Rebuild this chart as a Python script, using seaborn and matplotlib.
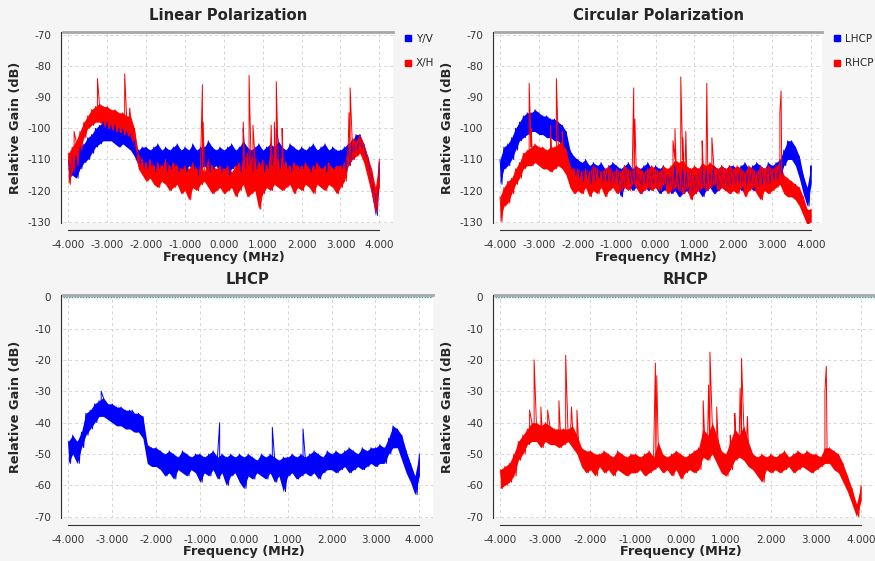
import numpy as np
import pandas as pd
import seaborn as sns
import matplotlib.pyplot as plt
from matplotlib.lines import Line2D

# frequency grid of the envelope readings (MHz)
freq = np.round(np.arange(-40, 41) / 10, 1)

# Linear polarization, Y/V (blue): upper / lower edge of the noise band
lin_yv_hi = [-110, -108, -109, -106, -105, -103, -102, -100, -99, -98,
             -98, -99, -99, -100, -100, -101, -102, -104, -107, -106,
             -106, -107, -106, -105, -107, -106, -107, -106, -105, -107,
             -106, -107, -105, -107, -106, -106, -104, -106, -107, -106,
             -107, -106, -105, -107, -106, -104, -106, -107, -106, -105,
             -107, -106, -105, -106, -104, -106, -107, -105, -106, -107,
             -106, -107, -106, -105, -107, -106, -105, -107, -106, -107,
             -107, -106, -105, -104, -102, -102, -105, -109, -115, -121,
             -111]
lin_yv_lo = [-116, -115, -116, -113, -111, -110, -108, -106, -105, -104,
             -104, -104, -105, -106, -105, -106, -107, -109, -112, -113,
             -113, -112, -114, -113, -112, -114, -113, -112, -114, -113,
             -114, -112, -113, -115, -113, -112, -114, -113, -112, -114,
             -113, -115, -113, -112, -114, -113, -112, -114, -113, -112,
             -114, -113, -112, -114, -113, -112, -113, -114, -112, -113,
             -113, -112, -114, -113, -112, -113, -114, -112, -113, -112,
             -113, -114, -112, -110, -108, -107, -109, -114, -121, -128,
             -116]
lin_yv_spike_f = [0.5, 1.35]
lin_yv_spike_v = [-100, -100]

# Linear polarization, X/H (red)
lin_xh_hi = [-108, -106, -104, -101, -98, -96, -94, -93, -92, -93,
             -93, -94, -94, -95, -95, -96, -96, -100, -108, -110,
             -111, -110, -112, -111, -112, -110, -112, -111, -112, -113,
             -112, -113, -111, -113, -112, -114, -110, -112, -113, -112,
             -113, -112, -114, -112, -111, -110, -108, -110, -109, -111,
             -110, -112, -108, -109, -110, -109, -111, -112, -111, -112,
             -112, -111, -113, -112, -111, -113, -112, -111, -113, -112,
             -112, -111, -106, -103, -104, -102, -105, -109, -113, -119,
             -110]
lin_xh_lo = [-118, -114, -112, -107, -103, -100, -99, -98, -98, -99,
             -100, -100, -101, -101, -102, -102, -103, -106, -113, -115,
             -117, -116, -118, -119, -117, -118, -120, -119, -118, -121,
             -120, -123, -119, -120, -118, -117, -119, -121, -120, -119,
             -121, -120, -119, -122, -120, -118, -122, -121, -120, -126,
             -121, -119, -120, -118, -119, -120, -119, -118, -121, -119,
             -120, -118, -119, -121, -118, -119, -120, -118, -119, -121,
             -119, -117, -112, -110, -109, -108, -111, -116, -121, -127,
             -119]
lin_xh_spike_f = [-3.85, -3.25, -2.55, -2.42, -0.55, -0.53, 0.5, 0.65, 0.75,
                  1.22, 1.3, 1.35, 1.5, 3.22, 3.25]
lin_xh_spike_v = [-101, -84, -82.5, -93.5, -86, -98, -98, -83, -99,
                  -99, -98, -85, -100, -95, -87]

# Circular polarization, LHCP (blue)
cir_l_hi = [-110, -106, -105, -103, -100, -98, -96, -95, -95, -94,
            -95, -96, -96, -97, -97, -98, -99, -101, -107, -109,
            -110, -111, -110, -112, -111, -112, -111, -113, -112, -111,
            -112, -113, -112, -111, -113, -112, -113, -112, -111, -113,
            -112, -113, -112, -114, -113, -112, -114, -113, -114, -113,
            -114, -113, -112, -113, -114, -112, -113, -112, -113, -112,
            -112, -113, -112, -111, -113, -112, -111, -112, -113, -111,
            -112, -111, -110, -107, -104, -104, -106, -109, -115, -119,
            -112]
cir_l_lo = [-118, -113, -112, -110, -107, -104, -103, -102, -101, -101,
            -102, -102, -103, -103, -104, -104, -106, -108, -113, -115,
            -116, -117, -116, -118, -117, -116, -118, -117, -119, -118,
            -118, -122, -119, -118, -120, -119, -121, -118, -120, -119,
            -119, -121, -120, -119, -121, -120, -122, -121, -120, -122,
            -121, -120, -122, -120, -119, -121, -120, -119, -120, -119,
            -119, -118, -120, -119, -118, -120, -119, -118, -119, -118,
            -117, -118, -116, -112, -110, -110, -112, -116, -121, -125,
            -118]
cir_l_spike_f = []
cir_l_spike_v = []

# Circular polarization, RHCP (red)
cir_r_hi = [-122, -119, -117, -116, -113, -111, -108, -107, -106, -105,
            -106, -106, -107, -106, -106, -105, -104, -107, -112, -113,
            -113, -114, -113, -114, -112, -113, -114, -113, -112, -114,
            -113, -114, -112, -113, -114, -112, -113, -114, -113, -112,
            -113, -114, -112, -113, -112, -110, -111, -110, -112, -113,
            -112, -113, -111, -112, -111, -112, -113, -112, -113, -112,
            -113, -112, -113, -114, -112, -113, -114, -112, -113, -112,
            -113, -112, -111, -115, -116, -117, -118, -119, -122, -126,
            -126]
cir_r_lo = [-130, -125, -124, -121, -118, -116, -113, -112, -112, -111,
            -112, -113, -113, -114, -113, -112, -113, -115, -119, -121,
            -120, -121, -119, -122, -120, -121, -119, -122, -120, -119,
            -121, -120, -119, -120, -118, -119, -121, -120, -119, -120,
            -119, -120, -118, -121, -120, -119, -120, -121, -119, -123,
            -121, -120, -119, -120, -119, -118, -120, -119, -120, -121,
            -120, -121, -119, -122, -120, -119, -121, -123, -120, -121,
            -120, -119, -118, -121, -122, -122, -123, -125, -128, -131,
            -130]
cir_r_spike_f = [-3.25, -3.2, -2.7, -2.55, -2.4, -0.56, -0.53, 0.45, 0.5,
                 0.65, 0.7, 0.78, 1.2, 1.32, 1.45, 3.2, 3.23]
cir_r_spike_v = [-85.5, -100, -99, -84, -101, -87, -97, -104, -100,
                 -83.5, -103, -101, -104, -85.5, -103, -95, -88]

# LHCP (blue), bottom left
lhcp_hi = [-46, -44, -46, -43, -37, -36, -34, -33, -32, -34,
           -34, -35, -35, -36, -36, -37, -37, -38, -47, -48,
           -48, -49, -50, -49, -50, -51, -49, -50, -51, -50,
           -50, -51, -50, -49, -51, -50, -51, -50, -51, -50,
           -51, -50, -51, -52, -50, -51, -50, -51, -52, -51,
           -51, -50, -51, -50, -51, -50, -49, -50, -51, -49,
           -50, -49, -50, -49, -48, -49, -50, -48, -49, -48,
           -48, -47, -48, -45, -41, -42, -44, -49, -53, -57,
           -50]
lhcp_lo = [-53, -50, -53, -48, -44, -42, -40, -38, -38, -39,
           -40, -41, -41, -42, -42, -43, -43, -45, -53, -54,
           -54, -55, -57, -56, -58, -55, -56, -57, -55, -56,
           -59, -56, -57, -55, -58, -56, -60, -57, -56, -59,
           -61, -57, -58, -56, -57, -58, -56, -59, -57, -62,
           -57, -56, -58, -57, -56, -57, -56, -58, -56, -55,
           -55, -56, -55, -54, -56, -55, -54, -55, -54, -53,
           -54, -53, -53, -50, -48, -48, -52, -56, -59, -63,
           -57]
lhcp_spike_f = [-3.25, -2.55, -0.55, 0.65, 1.35]
lhcp_spike_v = [-30, -36, -40, -41.5, -42]

# RHCP (red), bottom right
rhcp_hi = [-55, -54, -53, -50, -46, -44, -42, -40, -40, -41,
           -40, -41, -42, -42, -42, -42, -41, -44, -48, -49,
           -49, -50, -50, -49, -50, -51, -49, -50, -51, -50,
           -50, -51, -50, -49, -51, -46, -50, -51, -50, -49,
           -50, -51, -50, -49, -48, -42, -44, -40, -44, -49,
           -50, -46, -42, -44, -41, -46, -50, -51, -50, -51,
           -50, -51, -50, -49, -51, -50, -49, -50, -49, -50,
           -50, -51, -48, -48, -49, -50, -53, -57, -61, -66,
           -60]
rhcp_lo = [-61, -60, -59, -57, -52, -50, -47, -46, -46, -48,
           -46, -47, -47, -48, -47, -46, -48, -50, -54, -56,
           -55, -57, -54, -56, -55, -57, -55, -56, -57, -56,
           -56, -55, -57, -56, -55, -54, -56, -55, -57, -55,
           -58, -56, -55, -56, -55, -51, -52, -50, -53, -56,
           -57, -55, -52, -51, -52, -54, -55, -57, -59, -55,
           -56, -55, -56, -55, -54, -56, -55, -54, -55, -56,
           -55, -54, -53, -53, -55, -56, -59, -62, -66, -70,
           -65]
rhcp_spike_f = [-3.35, -3.25, -3.1, -2.95, -2.7, -2.55, -2.42, -2.3, -0.56,
                -0.53, 0.5, 0.62, 0.65, 0.8, 1.1, 1.2, 1.32, 1.35, 1.48,
                3.2, 3.23]
rhcp_spike_v = [-36, -20, -35, -36, -33, -18.5, -35, -36, -21,
                -25, -33, -28, -17.5, -35, -44, -37, -29, -19.5, -38,
                -30, -22]

BLUE = '#0000ff'
RED = '#ff0000'


def trace(hi, lo, spike_f, spike_v):
    # zig-zag between upper and lower edge of the band, spikes merged in
    x = np.concatenate([freq, np.minimum(freq + 0.05, 4.0), spike_f])
    y = np.concatenate([hi, lo, spike_v])
    order = np.argsort(x, kind='stable')
    return pd.DataFrame({'freq': x[order], 'gain': y[order]})


def draw(ax, hi, lo, spike_f, spike_v, color):
    ax.fill_between(freq, lo, hi, color=color, lw=0)
    sns.lineplot(data=trace(hi, lo, spike_f, spike_v), x='freq', y='gain',
                 estimator=None, sort=False, color=color, lw=0.7, ax=ax)


sns.set_style('white')
plt.rcParams['font.family'] = ['DejaVu Sans']
plt.rcParams['axes.unicode_minus'] = False

W, H = 875, 561
fig = plt.figure(figsize=(W / 100, H / 100), dpi=100, facecolor='#f5f5f5')


def panel(box, xpix, ypix, yvals, title):
    l, t, r, b = box
    ax = fig.add_axes([l / W, 1 - b / H, (r - l) / W, (b - t) / H])
    # pixel positions of -4 / 4 MHz and of the first / last y tick
    sx = (xpix[1] - xpix[0]) / 8.0
    ax.set_xlim(-4 - (xpix[0] - l) / sx, 4 + (r - xpix[1]) / sx)
    sy = (ypix[1] - ypix[0]) / (yvals[0] - yvals[1])
    ax.set_ylim(yvals[1] - (b - ypix[1]) / sy, yvals[0] + (ypix[0] - t) / sy)
    ax.set_facecolor('white')
    ax.set_xticks(np.arange(-4, 5, 1))
    ax.set_xticks(np.arange(-4, 4.01, 0.2), minor=True)
    ax.set_yticks(np.arange(yvals[1], yvals[0] + 1, 10))
    ax.set_yticks(np.arange(yvals[1], yvals[0] + 1, 2), minor=True)
    ax.xaxis.set_major_formatter(plt.FormatStrFormatter('%.3f'))
    ax.grid(True, which='major', color='#d6d6d6', ls=(0, (3, 3)), lw=0.7)
    ax.spines['right'].set_visible(False)
    ax.spines['top'].set_color('#a8a8a8')
    ax.spines['top'].set_linewidth(2)
    ax.spines['left'].set_color('#333333')
    ax.spines['left'].set_position(('outward', 1.5))
    ax.spines['bottom'].set_color('#333333')
    ax.spines['bottom'].set_position(('outward', 5))
    ax.spines['bottom'].set_bounds(-4, 4)
    ax.tick_params(which='both', direction='out', colors='#333333',
                   labelsize=7.5, labelcolor='#333333')
    ax.tick_params(axis='y', which='major', length=4, pad=3)
    ax.tick_params(axis='y', which='minor', length=2)
    ax.tick_params(axis='x', which='major', length=4, pad=3)
    ax.tick_params(axis='x', which='minor', length=2)
    ax.set_ylabel('Relative Gain (dB)', fontsize=9.3, fontweight='bold', va='center')
    ax.yaxis.set_label_coords(-47.0 / (r - l), 0.5)
    ax.set_title(title, fontsize=10.7, fontweight='bold', pad=0,
                 y=(b - t + 16) / (b - t), va='center')
    return ax, ((xpix[0] + xpix[1]) / 2 - l) / (r - l), -34.0 / (b - t)


boxes = {
    'lin': (63, 32, 393, 223),
    'cir': (495, 32, 822, 223),
    'lhcp': (63, 295, 433, 518),
    'rhcp': (495, 295, 875, 518),
}

ax1, lx1, ly1 = panel(boxes['lin'], (68.3, 379.3), (35, 221.7), (-70, -130),
                      'Linear Polarization')
draw(ax1, lin_yv_hi, lin_yv_lo, lin_yv_spike_f, lin_yv_spike_v, BLUE)
draw(ax1, lin_xh_hi, lin_xh_lo, lin_xh_spike_f, lin_xh_spike_v, RED)

ax2, lx2, ly2 = panel(boxes['cir'], (500, 811), (35, 221.7), (-70, -130),
                      'Circular Polarization')
draw(ax2, cir_l_hi, cir_l_lo, cir_l_spike_f, cir_l_spike_v, BLUE)
draw(ax2, cir_r_hi, cir_r_lo, cir_r_spike_f, cir_r_spike_v, RED)

ax3, lx3, ly3 = panel(boxes['lhcp'], (68.3, 419.3), (297.3, 516.7), (0, -70), 'LHCP')
draw(ax3, lhcp_hi, lhcp_lo, lhcp_spike_f, lhcp_spike_v, BLUE)

ax4, lx4, ly4 = panel(boxes['rhcp'], (500.3, 861), (297.3, 516.7), (0, -70), 'RHCP')
draw(ax4, rhcp_hi, rhcp_lo, rhcp_spike_f, rhcp_spike_v, RED)

for ax in (ax3, ax4):
    ax.axhline(0, color='#2aa7a7', ls=(0, (1, 1)), lw=1)

for ax, lx, ly in ((ax1, lx1, ly1), (ax2, lx2, ly2), (ax3, lx3, ly3), (ax4, lx4, ly4)):
    ax.set_xlabel('Frequency (MHz)', fontsize=9.2, fontweight='bold', va='center')
    ax.xaxis.set_label_coords(lx, ly)

for ax, names in ((ax1, ['Y/V', 'X/H']), (ax2, ['LHCP', 'RHCP'])):
    handles = [Line2D([], [], marker='s', ls='', color=c, markersize=5)
               for c in (BLUE, RED)]
    ax.legend(handles, names, loc='upper left', bbox_to_anchor=(1.0, 1.045),
              frameon=False, fontsize=7.5, handlelength=0.8, handletextpad=0.4,
              labelspacing=1.4, borderaxespad=0.6)

fig.savefig('out.png', dpi=100, facecolor=fig.get_facecolor())
